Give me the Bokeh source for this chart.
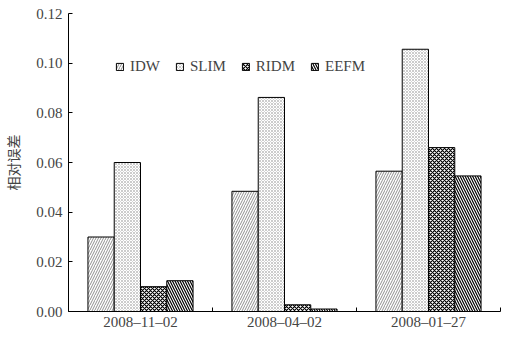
from bokeh.plotting import figure
from bokeh.models import ColumnDataSource, FixedTicker, Range1d, Legend, LegendItem
from bokeh.embed import file_html
from bokeh.resources import INLINE

dates = ["2008–11–02", "2008–04–02", "2008–01–27"]
methods = ["IDW", "SLIM", "RIDM", "EEFM"]
idw = [0.030, 0.0484, 0.0565]
slim = [0.060, 0.0862, 0.1056]
ridm = [0.010, 0.0027, 0.066]
eefm = [0.0124, 0.0010, 0.0546]
y_ticks = [0.00, 0.02, 0.04, 0.06, 0.08, 0.10, 0.12]

series = [idw, slim, ridm, eefm]
styles = [
    dict(hatch_pattern="/", hatch_scale=5, hatch_weight=0.6, hatch_color="#444444"),
    dict(hatch_pattern="x", hatch_scale=3, hatch_weight=0.5, hatch_color="#999999"),
    dict(hatch_pattern="x", hatch_scale=4, hatch_weight=1.2, hatch_color="black"),
    dict(hatch_pattern="\\", hatch_scale=5, hatch_weight=1.2, hatch_color="black"),
]

FONT = "Liberation Serif"

xc = list(range(1, len(dates) + 1))
p = figure(width=503, height=332, output_backend="svg", toolbar_location=None,
           x_range=Range1d(0.5, len(dates) + 0.5), y_range=Range1d(0, 0.12),
           min_border_left=60, min_border_right=3, min_border_top=13, min_border_bottom=18)

bw = 0.1825
items = []
for i, (name, vals, st) in enumerate(zip(methods, series, styles)):
    off = (i - 1.5) * bw
    src = ColumnDataSource(dict(x=[c + off for c in xc], top=vals))
    r = p.vbar(x="x", top="top", width=bw, source=src, fill_color="white",
               line_color="black", line_width=1, **st)
    items.append(LegendItem(label=name, renderers=[r]))

legend = Legend(items=items, orientation="horizontal", location=(47, 236),
                padding=0, margin=0, spacing=15, label_standoff=6,
                glyph_width=9, glyph_height=9, label_height=12,
                border_line_alpha=0, background_fill_alpha=0,
                label_text_font=FONT, label_text_font_size="15px")
p.add_layout(legend, "center")

p.xgrid.visible = False
p.ygrid.visible = False
p.outline_line_color = None

xa = p.xaxis[0]
xa.ticker = FixedTicker(ticks=xc, minor_ticks=[c - 0.5 for c in xc] + [xc[-1] + 0.5])
xa.major_label_overrides = {c: d for c, d in zip(xc, dates)}
xa.major_tick_in = 0
xa.major_tick_out = 0
xa.minor_tick_in = 4
xa.minor_tick_out = 0
xa.major_label_text_font = FONT
xa.major_label_text_font_size = "15px"
xa.major_label_standoff = 2
xa.axis_line_color = "black"

ya = p.yaxis[0]
ya.ticker = FixedTicker(ticks=y_ticks, minor_ticks=[])
ya.major_label_overrides = {t: f"{t:.2f}" for t in y_ticks}
ya.major_tick_in = 4
ya.major_tick_out = 0
ya.major_label_text_font = FONT
ya.major_label_text_font_size = "15px"
ya.major_label_standoff = 6
ya.axis_label = "相对误差"
ya.axis_label_text_font = "Noto Sans CJK SC"
ya.axis_label_text_font_style = "normal"
ya.axis_label_text_font_size = "14px"
ya.axis_label_standoff = 10

open("out.html", "w").write(file_html(p, INLINE))
